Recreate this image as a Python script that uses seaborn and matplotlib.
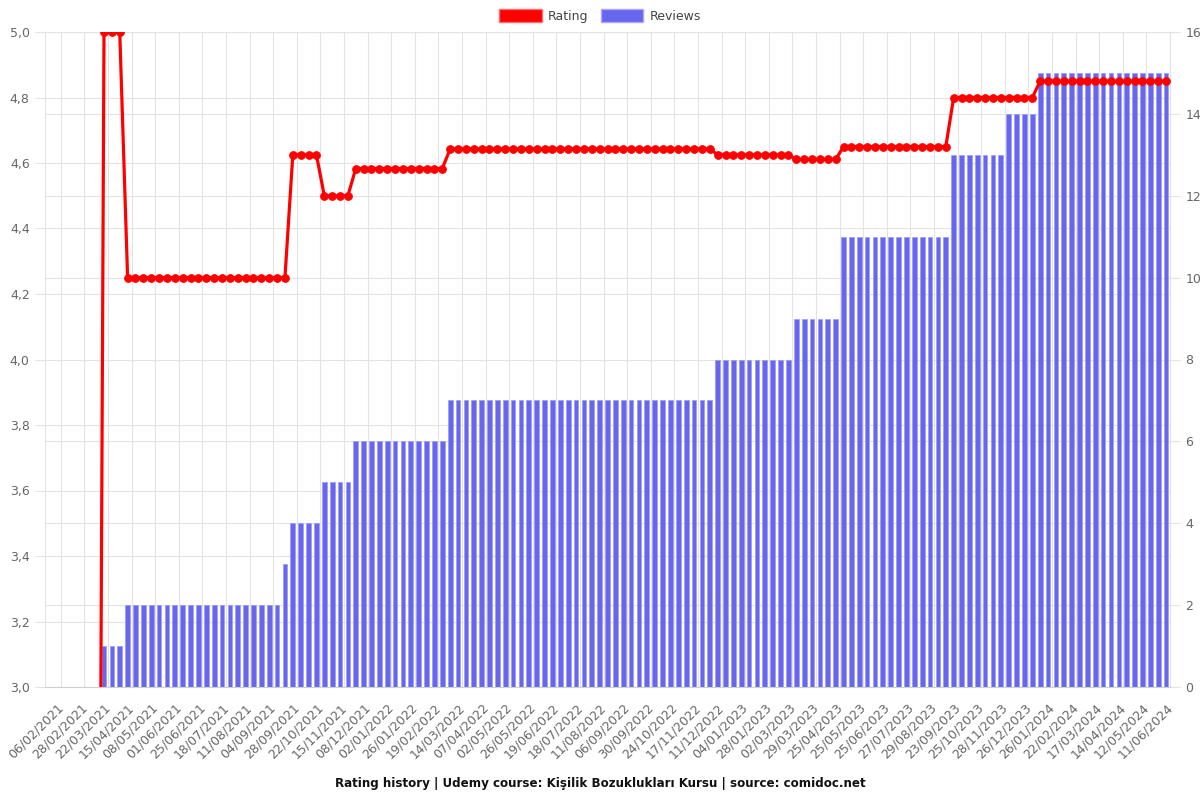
import matplotlib
matplotlib.use("Agg")
import matplotlib.pyplot as plt
from matplotlib.patches import Patch
from matplotlib.ticker import FuncFormatter
import seaborn as sns
import pandas as pd

# ---- data -------------------------------------------------------------
tick_labels = [
    "06/02/2021", "28/02/2021", "22/03/2021", "15/04/2021", "08/05/2021", "01/06/2021",
    "25/06/2021", "18/07/2021", "11/08/2021", "04/09/2021", "28/09/2021", "22/10/2021",
    "15/11/2021", "08/12/2021", "02/01/2022", "26/01/2022", "19/02/2022", "14/03/2022",
    "07/04/2022", "02/05/2022", "26/05/2022", "19/06/2022", "18/07/2022", "11/08/2022",
    "06/09/2022", "30/09/2022", "24/10/2022", "17/11/2022", "11/12/2022", "04/01/2023",
    "28/01/2023", "02/03/2023", "29/03/2023", "25/04/2023", "25/05/2023", "25/06/2023",
    "27/07/2023", "29/08/2023", "23/09/2023", "25/10/2023", "28/11/2023", "26/12/2023",
    "26/01/2024", "22/02/2024", "17/03/2024", "14/04/2024", "12/05/2024", "11/06/2024",
]

rating = [
    0, 0, 0, 0, 0, 0, 0,
    5.0, 5.0, 5.0,
    4.25, 4.25, 4.25, 4.25, 4.25, 4.25, 4.25, 4.25, 4.25, 4.25, 4.25,
    4.25, 4.25, 4.25, 4.25, 4.25, 4.25, 4.25, 4.25, 4.25, 4.25,
    4.625, 4.625, 4.625, 4.625,
    4.5, 4.5, 4.5, 4.5,
    4.583, 4.583, 4.583, 4.583, 4.583, 4.583, 4.583, 4.583, 4.583, 4.583, 4.583, 4.583,
    4.643, 4.643, 4.643, 4.643, 4.643, 4.643, 4.643, 4.643, 4.643, 4.643,
    4.643, 4.643, 4.643, 4.643, 4.643, 4.643, 4.643, 4.643, 4.643, 4.643,
    4.643, 4.643, 4.643, 4.643, 4.643, 4.643, 4.643, 4.643, 4.643, 4.643,
    4.643, 4.643, 4.643, 4.643,
    4.625, 4.625, 4.625, 4.625, 4.625, 4.625, 4.625, 4.625, 4.625, 4.625,
    4.611, 4.611, 4.611, 4.611, 4.611, 4.611,
    4.65, 4.65, 4.65, 4.65, 4.65, 4.65, 4.65, 4.65, 4.65, 4.65, 4.65, 4.65, 4.65, 4.65,
    4.8, 4.8, 4.8, 4.8, 4.8, 4.8, 4.8, 4.8, 4.8, 4.8, 4.8,
    4.85, 4.85, 4.85, 4.85, 4.85, 4.85, 4.85, 4.85, 4.85, 4.85,
    4.85, 4.85, 4.85, 4.85, 4.85, 4.85, 4.85,
]

reviews = [
    0, 0, 0, 0, 0, 0, 0,
    1, 1, 1,
    2, 2, 2, 2, 2, 2, 2, 2, 2, 2, 2, 2, 2, 2, 2, 2, 2, 2, 2, 2,
    3,
    4, 4, 4, 4,
    5, 5, 5, 5,
    6, 6, 6, 6, 6, 6, 6, 6, 6, 6, 6, 6,
    7, 7, 7, 7, 7, 7, 7, 7, 7, 7, 7, 7, 7, 7, 7, 7, 7,
    7, 7, 7, 7, 7, 7, 7, 7, 7, 7, 7, 7, 7, 7, 7, 7, 7,
    8, 8, 8, 8, 8, 8, 8, 8, 8, 8,
    9, 9, 9, 9, 9, 9,
    11, 11, 11, 11, 11, 11, 11, 11, 11, 11, 11, 11, 11, 11,
    13, 13, 13, 13, 13, 13, 13,
    14, 14, 14, 14,
    15, 15, 15, 15, 15, 15, 15, 15, 15, 15, 15, 15, 15, 15, 15, 15, 15,
]

rating_ticks = [3.0, 3.2, 3.4, 3.6, 3.8, 4.0, 4.2, 4.4, 4.6, 4.8, 5.0]
review_ticks = [0, 2, 4, 6, 8, 10, 12, 14, 16]

title = "Rating history | Udemy course: Kişilik Bozuklukları Kursu | source: comidoc.net"

# ---- build frame --------------------------------------------------------
n = len(rating)
df = pd.DataFrame({"idx": list(range(n)), "rating": rating, "reviews": reviews})

RED = "#ff0000"
BLUE = "#6666ee"
GRID = "#e3e3e3"
TXT = "#666666"

sns.set_style("white")
plt.rcParams["font.family"] = ["DejaVu Sans"]

fig = plt.figure(figsize=(12, 8), dpi=100)
ax = fig.add_axes([45 / 1200, 1 - 687 / 800, (1170 - 45) / 1200, (687 - 32) / 800])

# bars (reviews, right scale)
sns.barplot(data=df, x="idx", y="reviews", ax=ax, color=BLUE, saturation=1,
            width=0.6, edgecolor="#9c9cf4", linewidth=0.5, zorder=2)
ax.set_ylim(0, 16)
ax.set_xlim(-0.5, n - 0.5)
ax.set_ylabel("")
ax.set_xlabel("")

# grid lines drawn on the bar axes (behind everything)
ax.set_yticks(review_ticks)
ax.set_yticks([(r - 3.0) * 8 for r in rating_ticks], minor=True)
grid_x = [1.5 + 3 * j for j in range(len(tick_labels))]
ax.set_xticks(grid_x, minor=True)
ax.set_xticks([1 + 3 * j for j in range(len(tick_labels))])
ax.set_xticklabels(tick_labels, rotation=45, ha="right", rotation_mode="anchor",
                   fontsize=9, color=TXT)
ax.grid(True, which="both", axis="both", color=GRID, linewidth=0.8, zorder=0)
ax.xaxis.grid(False, which="major")
ax.set_axisbelow(True)
ax.tick_params(axis="x", which="major", length=0, pad=10)
ax.tick_params(axis="x", which="minor", length=7, color=GRID, width=0.8)
for s in ax.spines.values():
    s.set_color(GRID)
    s.set_linewidth(0.8)
ax.spines["bottom"].set_color("#cfcfcf")

# line (rating, left scale)
ax2 = ax.twinx()
sns.lineplot(data=df, x="idx", y="rating", ax=ax2, color=RED, linewidth=2.3,
             marker="o", markersize=5.5, markeredgecolor=RED, zorder=3)
ax2.set_ylim(3.0, 5.0)
ax2.set_xlim(-0.5, n - 0.5)
ax2.yaxis.tick_left()
ax2.yaxis.set_label_position("left")
ax2.set_yticks(rating_ticks)
ax2.yaxis.set_major_formatter(FuncFormatter(lambda v, p: f"{v:.1f}".replace(".", ",")))
ax2.set_ylabel("")
ax2.set_xlabel("")
ax2.tick_params(axis="y", length=7, color=GRID, width=0.8, labelsize=9,
                labelcolor=TXT, pad=4)
for s in ax2.spines.values():
    s.set_visible(False)
ax2.grid(False)

# reviews scale on the right (after twinx, which resets it)
ax.yaxis.tick_right()
ax.yaxis.set_label_position("right")
ax.tick_params(axis="y", which="major", length=7, color=GRID, width=0.8,
               labelsize=9, labelcolor=TXT, pad=4, left=False, labelleft=False,
               right=True, labelright=True)
ax.tick_params(axis="y", which="minor", length=0, left=False, right=False)

# legend
handles = [Patch(facecolor=RED, edgecolor="#ff6b6b", label="Rating"),
           Patch(facecolor=BLUE, edgecolor="#a9a9f6", label="Reviews")]
fig.legend(handles=handles, loc="center", bbox_to_anchor=(0.5, 1 - 16 / 800), ncol=2,
           frameon=False, fontsize=9, handlelength=3.4, handleheight=1.2,
           columnspacing=1.0, handletextpad=0.5, labelcolor="#444444")

fig.text(0.5, 1 - 783 / 800, title, ha="center", va="center", fontsize=8.6,
         fontweight="bold", color="#111111")

fig.savefig("out.png", dpi=100)
